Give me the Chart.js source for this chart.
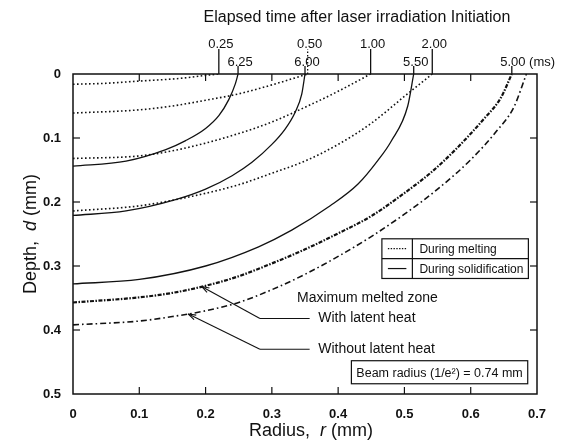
<!DOCTYPE html>
<html>
<head>
<meta charset="utf-8">
<script src="https://cdn.jsdelivr.net/npm/chart.js@4.4.1/dist/chart.umd.min.js"></script>
<style>
  html, body { margin: 0; padding: 0; background: #fff; }
</style>
</head>
<body>
<canvas id="melt-zone-chart" width="572" height="448"></canvas>
<script>
// melt front positions, [radius r (mm), depth d (mm)]
var melting025 = [[0, 0.016], [0.05, 0.0145], [0.1, 0.011], [0.16, 0.007], [0.21, 0.001], [0.22, 0]];
var melting050 = [[0, 0.061], [0.1, 0.056], [0.15, 0.05], [0.2, 0.041], [0.25, 0.031], [0.3, 0.017], [0.354, 0]];
var melting100 = [[0, 0.132], [0.1, 0.128], [0.15, 0.12], [0.2, 0.108], [0.25, 0.093], [0.3, 0.075], [0.35, 0.052], [0.4, 0.027], [0.449, 0]];
var melting200 = [[0, 0.214], [0.1, 0.206], [0.18, 0.191], [0.25, 0.173], [0.3, 0.155], [0.35, 0.136], [0.4, 0.11], [0.45, 0.077], [0.5, 0.035], [0.542, 0]];
var solid625 = [[0, 0.144], [0.08, 0.136], [0.14, 0.118], [0.17, 0.104], [0.2, 0.085], [0.22, 0.065], [0.235, 0.04], [0.245, 0.015], [0.249, 0]];
var solid600 = [[0, 0.221], [0.08, 0.214], [0.156, 0.196], [0.2, 0.18], [0.24, 0.159], [0.27, 0.138], [0.3, 0.11], [0.32, 0.086], [0.335, 0.06], [0.345, 0.032], [0.35, 0]];
var solid550 = [[0, 0.328], [0.1, 0.321], [0.2, 0.3], [0.28, 0.27], [0.33, 0.244], [0.388, 0.206], [0.43, 0.172], [0.46, 0.135], [0.48, 0.105], [0.505, 0.05], [0.514, 0]];
var maxWithLatent = [[0, 0.357], [0.1, 0.349], [0.15, 0.342], [0.2, 0.331], [0.25, 0.316], [0.3, 0.296], [0.35, 0.274], [0.4, 0.249], [0.45, 0.222], [0.5, 0.186], [0.54, 0.154], [0.58, 0.115], [0.62, 0.07], [0.645, 0.038], [0.662, 0]];
var maxWithoutLatent = [[0, 0.392], [0.1, 0.386], [0.15, 0.379], [0.2, 0.37], [0.25, 0.357], [0.3, 0.337], [0.35, 0.313], [0.4, 0.285], [0.45, 0.254], [0.5, 0.219], [0.55, 0.18], [0.6, 0.134], [0.64, 0.088], [0.665, 0.052], [0.684, 0]];

// elapsed times (ms) written above the curve ends
var meltTimes = ['0.25', '0.50', '1.00', '2.00'];
var solidTimes = ['6.25', '6.00', '5.50', '5.00'];

var FONT = '"Liberation Sans", Arial, Helvetica, sans-serif';
var INK = '#111';

var dotted = [1.6, 2.4];
var dashDotDense = [4, 1.5, 1.5, 1.5];
var dashDot = [6, 3, 1.6, 3];

function toPoints(pairs) {
  return pairs.map(function (p) { return { x: p[0], y: p[1] }; });
}

function curve(label, pairs, dash, width) {
  return {
    label: label,
    data: toPoints(pairs),
    showLine: true,
    borderColor: INK,
    borderWidth: width,
    borderDash: dash,
    borderCapStyle: 'butt',
    pointRadius: 0,
    cubicInterpolationMode: 'monotone',
    fill: false
  };
}

var datasets = [
  curve(meltTimes[0] + ' ms', melting025, dotted, 1.6),
  curve(meltTimes[1] + ' ms', melting050, dotted, 1.6),
  curve(meltTimes[2] + ' ms', melting100, dotted, 1.6),
  curve(meltTimes[3] + ' ms', melting200, dotted, 1.6),
  curve(solidTimes[0] + ' ms', solid625, [], 1.3),
  curve(solidTimes[1] + ' ms', solid600, [], 1.3),
  curve(solidTimes[2] + ' ms', solid550, [], 1.3),
  curve('With latent heat', maxWithLatent, dashDotDense, 2.2),
  curve('Without latent heat', maxWithoutLatent, dashDot, 1.6)
];

// which curve each top label belongs to, and whether its leader is long (upper row)
var timeLabels = [
  { text: meltTimes[0], curve: melting025, upper: true, dash: [] },
  { text: meltTimes[1], curve: melting050, upper: true, dash: [1.5, 2] },
  { text: meltTimes[2], curve: melting100, upper: true, dash: [] },
  { text: meltTimes[3], curve: melting200, upper: true, dash: [] },
  { text: solidTimes[0], curve: solid625, upper: false, dash: [] },
  { text: solidTimes[1], curve: solid600, upper: false, dash: [] },
  { text: solidTimes[2], curve: solid550, upper: false, dash: [] },
  { text: solidTimes[3], curve: maxWithLatent, upper: false, dash: [], unit: ' (ms)' }
];

function line(ctx, x1, y1, x2, y2) {
  ctx.beginPath();
  ctx.moveTo(x1, y1);
  ctx.lineTo(x2, y2);
  ctx.stroke();
}

// text with an italic symbol in the middle, e.g. "Radius,  r (mm)"
function mixedText(ctx, parts, size, cx, cy) {
  var total = 0;
  parts.forEach(function (p) {
    ctx.font = (p.italic ? 'italic ' : '') + size + 'px ' + FONT;
    p.w = ctx.measureText(p.text).width;
    total += p.w;
  });
  var x = cx - total / 2;
  ctx.textAlign = 'left';
  ctx.textBaseline = 'middle';
  parts.forEach(function (p) {
    ctx.font = (p.italic ? 'italic ' : '') + size + 'px ' + FONT;
    ctx.fillText(p.text, x, cy);
    x += p.w;
  });
}

function arrowTo(ctx, fromX, fromY, tipX, tipY) {
  line(ctx, fromX, fromY, tipX, tipY);
  var ang = Math.atan2(fromY - tipY, fromX - tipX);
  var len = 8, spread = 0.32;
  line(ctx, tipX, tipY, tipX + len * Math.cos(ang + spread), tipY + len * Math.sin(ang + spread));
  line(ctx, tipX, tipY, tipX + len * Math.cos(ang - spread), tipY + len * Math.sin(ang - spread));
}

var decorations = {
  id: 'decorations',
  afterDatasetsDraw: function (chart) {
    var ctx = chart.ctx, a = chart.chartArea;
    var xs = chart.scales.x, ys = chart.scales.y;
    ctx.save();
    ctx.strokeStyle = INK;
    ctx.fillStyle = INK;
    ctx.setLineDash([]);

    // frame with inward ticks on all four sides
    ctx.lineWidth = 1.5;
    ctx.strokeRect(a.left, a.top, a.right - a.left, a.bottom - a.top);
    ctx.lineWidth = 1.2;
    xs.ticks.forEach(function (t) {
      var px = xs.getPixelForValue(t.value);
      if (px <= a.left + 1 || px >= a.right - 1) return;
      line(ctx, px, a.bottom, px, a.bottom - 7);
      line(ctx, px, a.top, px, a.top + 7);
    });
    ys.ticks.forEach(function (t) {
      var py = ys.getPixelForValue(t.value);
      if (py <= a.top + 1 || py >= a.bottom - 1) return;
      line(ctx, a.left, py, a.left + 7, py);
      line(ctx, a.right, py, a.right - 7, py);
    });

    // elapsed-time labels with leaders up from each curve end
    ctx.font = '13px ' + FONT;
    ctx.textBaseline = 'middle';
    timeLabels.forEach(function (lb) {
      var endR = lb.curve[lb.curve.length - 1][0];
      var px = xs.getPixelForValue(endR);
      var topY = lb.upper ? a.top - 25 : a.top - 8;
      ctx.lineWidth = 1.3;
      ctx.setLineDash(lb.dash);
      line(ctx, px, a.top, px, topY);
      ctx.setLineDash([]);
      var ty = lb.upper ? a.top - 30 : a.top - 12;
      if (lb.unit) {
        ctx.textAlign = 'left';
        var w = ctx.measureText(lb.text).width;
        ctx.fillText(lb.text + lb.unit, px + 1 - w / 2, ty);
      } else {
        ctx.textAlign = 'center';
        ctx.fillText(lb.text, px + 2, ty);
      }
    });

    // title above the time labels
    ctx.font = '16px ' + FONT;
    ctx.textAlign = 'center';
    ctx.fillText('Elapsed time after laser irradiation Initiation', 357, 18);

    // axis titles
    mixedText(ctx, [{ text: 'Radius,  ' }, { text: 'r', italic: true }, { text: ' (mm)' }], 18, (a.left + a.right) / 2 + 6, 431);
    ctx.save();
    ctx.translate(31, (a.top + a.bottom) / 2);
    ctx.rotate(-Math.PI / 2);
    mixedText(ctx, [{ text: 'Depth,  ' }, { text: 'd', italic: true }, { text: ' (mm)' }], 18, 0, 0);
    ctx.restore();

    // line-style key
    var kx1 = xs.getPixelForValue(0.466), kx2 = xs.getPixelForValue(0.687), kxm = xs.getPixelForValue(0.512);
    var ky1 = ys.getPixelForValue(0.2575), ky2 = ys.getPixelForValue(0.3195), kym = (ky1 + ky2) / 2;
    ctx.lineWidth = 1.2;
    ctx.strokeRect(kx1, ky1, kx2 - kx1, ky2 - ky1);
    line(ctx, kx1, kym, kx2, kym);
    line(ctx, kxm, ky1, kxm, ky2);
    ctx.lineWidth = 1.2;
    ctx.setLineDash([1.4, 1.4]);
    line(ctx, kx1 + 6, (ky1 + kym) / 2, kxm - 6, (ky1 + kym) / 2);
    ctx.setLineDash([]);
    line(ctx, kx1 + 6, (kym + ky2) / 2, kxm - 6, (kym + ky2) / 2);
    ctx.font = '12px ' + FONT;
    ctx.textAlign = 'left';
    ctx.fillText('During melting', kxm + 7, (ky1 + kym) / 2 + 1);
    ctx.fillText('During solidification', kxm + 7, (kym + ky2) / 2 + 1);

    // maximum melted zone callouts
    ctx.font = '14px ' + FONT;
    ctx.fillText('Maximum melted zone', xs.getPixelForValue(0.338), ys.getPixelForValue(0.35));
    var textR = 0.370, elbowR = 0.282, endR = 0.357;
    ctx.fillText('With latent heat', xs.getPixelForValue(textR), ys.getPixelForValue(0.382));
    ctx.fillText('Without latent heat', xs.getPixelForValue(textR), ys.getPixelForValue(0.430));
    ctx.lineWidth = 1.1;
    line(ctx, xs.getPixelForValue(elbowR), ys.getPixelForValue(0.382), xs.getPixelForValue(endR), ys.getPixelForValue(0.382));
    arrowTo(ctx, xs.getPixelForValue(elbowR), ys.getPixelForValue(0.382), xs.getPixelForValue(0.194), ys.getPixelForValue(0.332));
    line(ctx, xs.getPixelForValue(elbowR), ys.getPixelForValue(0.430), xs.getPixelForValue(endR), ys.getPixelForValue(0.430));
    arrowTo(ctx, xs.getPixelForValue(elbowR), ys.getPixelForValue(0.430), xs.getPixelForValue(0.174), ys.getPixelForValue(0.375));

    // beam radius note
    var bx1 = xs.getPixelForValue(0.42), bx2 = xs.getPixelForValue(0.686);
    var by1 = ys.getPixelForValue(0.448), by2 = ys.getPixelForValue(0.484);
    ctx.lineWidth = 1.2;
    ctx.strokeRect(bx1, by1, bx2 - bx1, by2 - by1);
    ctx.font = '12.5px ' + FONT;
    ctx.textAlign = 'center';
    ctx.fillText('Beam radius (1/e\u00b2) = 0.74 mm', (bx1 + bx2) / 2, (by1 + by2) / 2 + 1);

    ctx.restore();
  }
};

var chart = new Chart(document.getElementById('melt-zone-chart'), {
  type: 'scatter',
  data: { datasets: datasets },
  options: {
    responsive: false,
    animation: false,
    layout: { padding: { top: 74, right: 35, left: 0, bottom: 0 } },
    plugins: {
      legend: { display: false },
      tooltip: { enabled: false }
    },
    scales: {
      x: {
        type: 'linear',
        min: 0,
        max: 0.7,
        grid: { display: false },
        border: { display: false },
        ticks: { stepSize: 0.1, color: INK, padding: 5, font: { family: FONT, size: 13, weight: 'bold' } },
        afterFit: function (scale) { scale.height = 54; }
      },
      y: {
        type: 'linear',
        reverse: true,
        min: 0,
        max: 0.5,
        grid: { display: false },
        border: { display: false },
        ticks: { stepSize: 0.1, color: INK, padding: 4, font: { family: FONT, size: 13, weight: 'bold' } },
        afterFit: function (scale) { scale.width = 73; }
      }
    }
  },
  plugins: [decorations]
});
</script>
</body>
</html>
